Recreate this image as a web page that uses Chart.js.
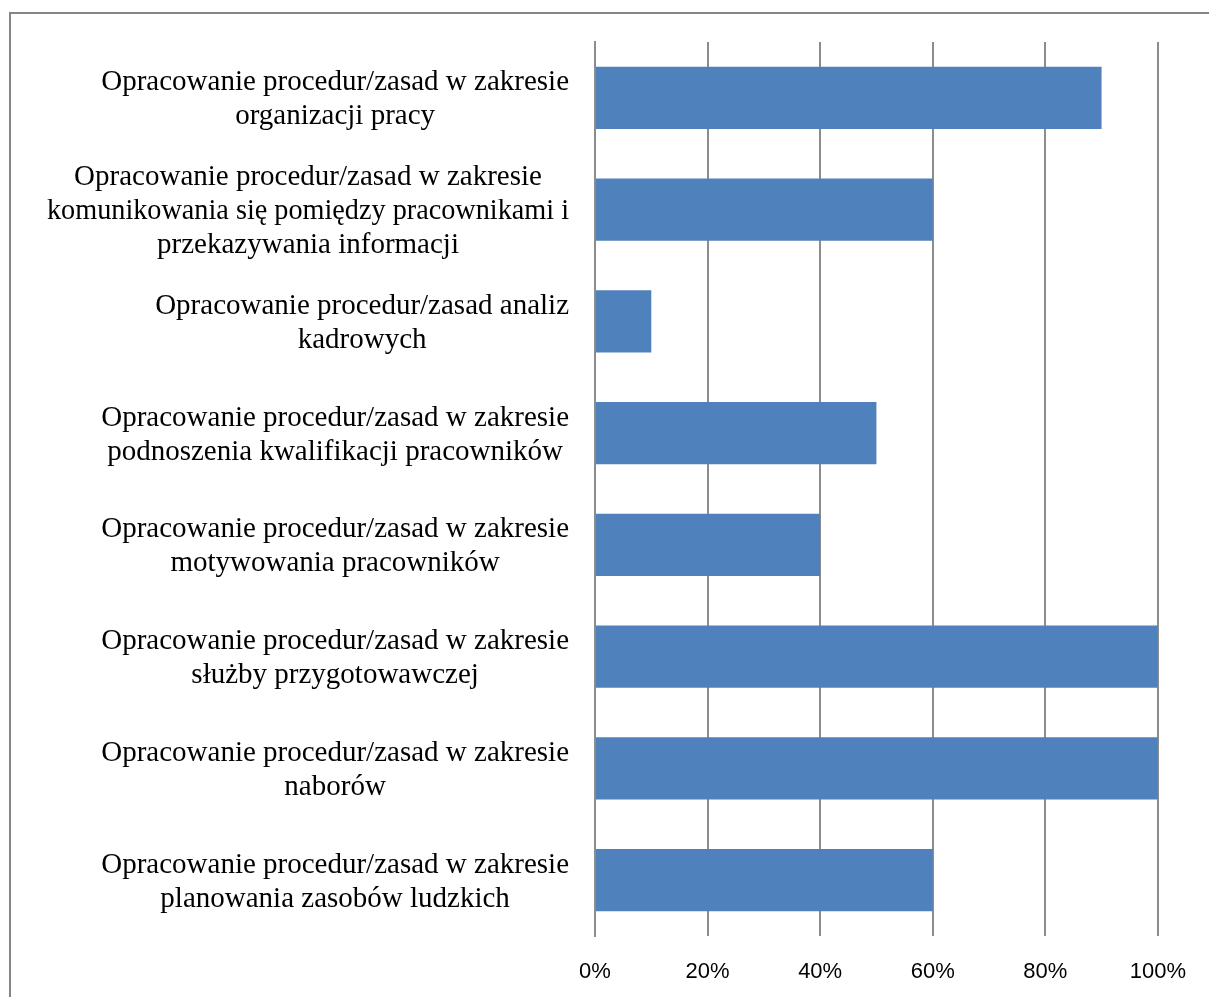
<!DOCTYPE html>
<html>
<head>
<meta charset="utf-8">
<script src="https://cdn.jsdelivr.net/npm/chart.js@4.4.1/dist/chart.umd.min.js"></script>
<style>
  html, body { margin: 0; padding: 0; background: #ffffff; overflow: hidden; }
  #wrap { position: relative; width: 1209px; height: 997px; }
  #frame { position: absolute; left: 9px; top: 12px; width: 1400px; height: 1200px;
           border-left: 2px solid #868686; border-top: 2px solid #868686; box-sizing: border-box; pointer-events: none; }
  canvas { position: absolute; left: 0; top: 0; }
</style>
</head>
<body>
<div id="wrap">
  <canvas id="c" width="1209" height="997"></canvas>
  <div id="frame"></div>
</div>
<script>
const categories = [
  ["Opracowanie procedur/zasad w zakresie", "organizacji pracy"],
  ["Opracowanie procedur/zasad w zakresie", "komunikowania się pomiędzy pracownikami i", "przekazywania informacji"],
  ["Opracowanie procedur/zasad analiz", "kadrowych"],
  ["Opracowanie procedur/zasad w zakresie", "podnoszenia kwalifikacji pracowników"],
  ["Opracowanie procedur/zasad w zakresie", "motywowania pracowników"],
  ["Opracowanie procedur/zasad w zakresie", "służby przygotowawczej"],
  ["Opracowanie procedur/zasad w zakresie", "naborów"],
  ["Opracowanie procedur/zasad w zakresie", "planowania zasobów ludzkich"]
];
const values = [90, 60, 10, 50, 40, 100, 100, 60];
const xTicks = [0, 20, 40, 60, 80, 100];

const labelFont = '29px "Liberation Serif", "Times New Roman", serif';
const labelLineHeight = 34;
const labelMaxWidth = 522;

const yLabelPlugin = {
  id: 'yLabels',
  afterDraw(chart) {
    const ctx = chart.ctx;
    const yScale = chart.scales.y;
    const rightEdge = chart.chartArea.left - 26;
    ctx.save();
    ctx.font = labelFont;
    ctx.fillStyle = '#000000';
    ctx.textAlign = 'center';
    ctx.textBaseline = 'middle';
    categories.forEach((lines, i) => {
      const cy = yScale.getPixelForTick(i) + 2;
      const widest = Math.min(labelMaxWidth, Math.max(...lines.map(l => ctx.measureText(l).width)));
      const cx = rightEdge - widest / 2;
      const y0 = cy - (lines.length - 1) / 2 * labelLineHeight;
      lines.forEach((l, j) => ctx.fillText(l, cx, y0 + j * labelLineHeight, labelMaxWidth));
    });
    ctx.restore();
  }
};

new Chart(document.getElementById('c'), {
  type: 'bar',
  data: {
    labels: categories,
    datasets: [{
      data: values,
      backgroundColor: '#4F81BD',
      borderWidth: 0,
      barPercentage: 0.556,
      categoryPercentage: 1.0
    }]
  },
  options: {
    indexAxis: 'y',
    responsive: false,
    animation: false,
    devicePixelRatio: 1,
    layout: { padding: { top: 42, right: 47, bottom: 0, left: 0 } },
    plugins: { legend: { display: false }, tooltip: { enabled: false } },
    scales: {
      x: {
        min: 0, max: 100,
        afterBuildTicks(scale) { scale.ticks = xTicks.map(v => ({ value: v })); },
        afterFit(scale) { scale.height = 61; },
        grid: { display: true, color: '#8c8c8c', lineWidth: 2, drawTicks: false },
        border: { display: false },
        ticks: {
          padding: 23,
          color: '#000000',
          font: { family: '"Liberation Sans", Arial, sans-serif', size: 22 },
          callback: v => v + '%'
        }
      },
      y: {
        afterFit(scale) { scale.width = 595; },
        grid: { display: false, drawTicks: false },
        border: { display: true, color: '#8c8c8c', width: 2 },
        ticks: { display: false }
      }
    }
  },
  plugins: [yLabelPlugin]
});
</script>
</body>
</html>
